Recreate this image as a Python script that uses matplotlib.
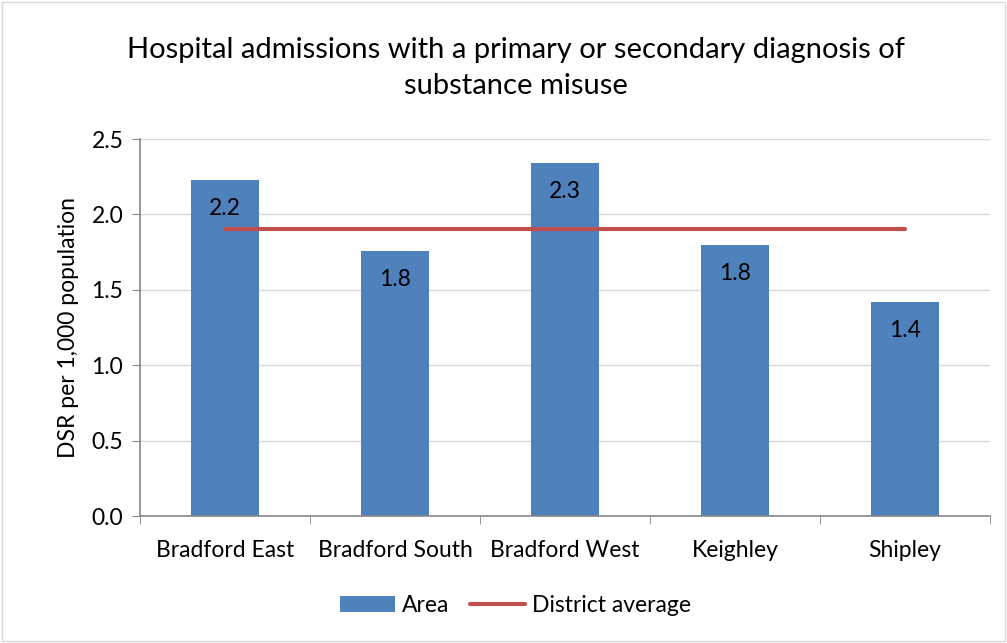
import matplotlib.pyplot as plt
from matplotlib.patches import Rectangle
import numpy as np

# data
areas = ['Bradford East', 'Bradford South', 'Bradford West', 'Keighley', 'Shipley']
dsr = [2.23, 1.76, 2.34, 1.80, 1.42]
labels = ['2.2', '1.8', '2.3', '1.8', '1.4']
district_avg = [1.90, 1.90, 1.90, 1.90, 1.90]

plt.rcParams['font.family'] = ['Lato', 'DejaVu Sans']

fig = plt.figure(figsize=(10.07, 6.43), dpi=100)
ax = fig.add_axes([0.139, 0.1975, 0.844, 0.5863])

x = np.arange(len(areas))
bar_col = '#4F81BD'
line_col = '#C0504D'

bars = ax.bar(x, dsr, width=0.4, color=bar_col, label='Area', zorder=2)
line, = ax.plot(x, district_avg, color=line_col, linewidth=3, solid_capstyle='round',
                label='District average', zorder=3)

# labels inside the bars
for xi, v, t in zip(x, dsr, labels):
    ax.annotate(t, (xi, v), xytext=(0, -13), textcoords='offset points',
                ha='center', va='top', fontsize=16.5, zorder=4)

ax.set_xlim(-0.5, len(areas) - 0.5)
ax.set_ylim(0, 2.5)
ax.set_yticks(np.arange(0, 2.51, 0.5))
ax.set_yticklabels([f'{v:.1f}' for v in np.arange(0, 2.51, 0.5)])
ax.set_xticks(x)
ax.set_xticklabels(areas)
ax.set_xticks(np.arange(-0.5, len(areas)), minor=True)
ax.tick_params(axis='x', which='major', length=0, labelsize=16.5, pad=17)
ax.tick_params(axis='x', which='minor', length=6, color='#868686')
ax.tick_params(axis='y', length=6, color='#868686', labelsize=16.5, pad=6)
ax.grid(axis='y', color='#D9D9D9', linewidth=1, zorder=0)
ax.set_axisbelow(True)
for s in ['top', 'right']:
    ax.spines[s].set_visible(False)
for s in ['left', 'bottom']:
    ax.spines[s].set_color('#868686')
    ax.spines[s].set_linewidth(1.2)

ax.set_ylabel('DSR per 1,000 population', fontsize=16.5, labelpad=9)
fig.text(0.512, 0.894, 'Hospital admissions with a primary or secondary diagnosis of\nsubstance misuse',
         ha='center', va='center', fontsize=21, linespacing=1.45)

fig.legend([bars, line], ['Area', 'District average'], loc='center',
           bbox_to_anchor=(0.512, 0.058), ncol=2, frameon=False,
           fontsize=16.5, handlelength=2.4, handletextpad=0.3, columnspacing=0.9)

# chart border
fig.patches.append(Rectangle((0.002, 0.003), 0.996, 0.994, transform=fig.transFigure,
                             fill=False, edgecolor='#D9D9D9', linewidth=1))

fig.savefig('out.png', dpi=100)
